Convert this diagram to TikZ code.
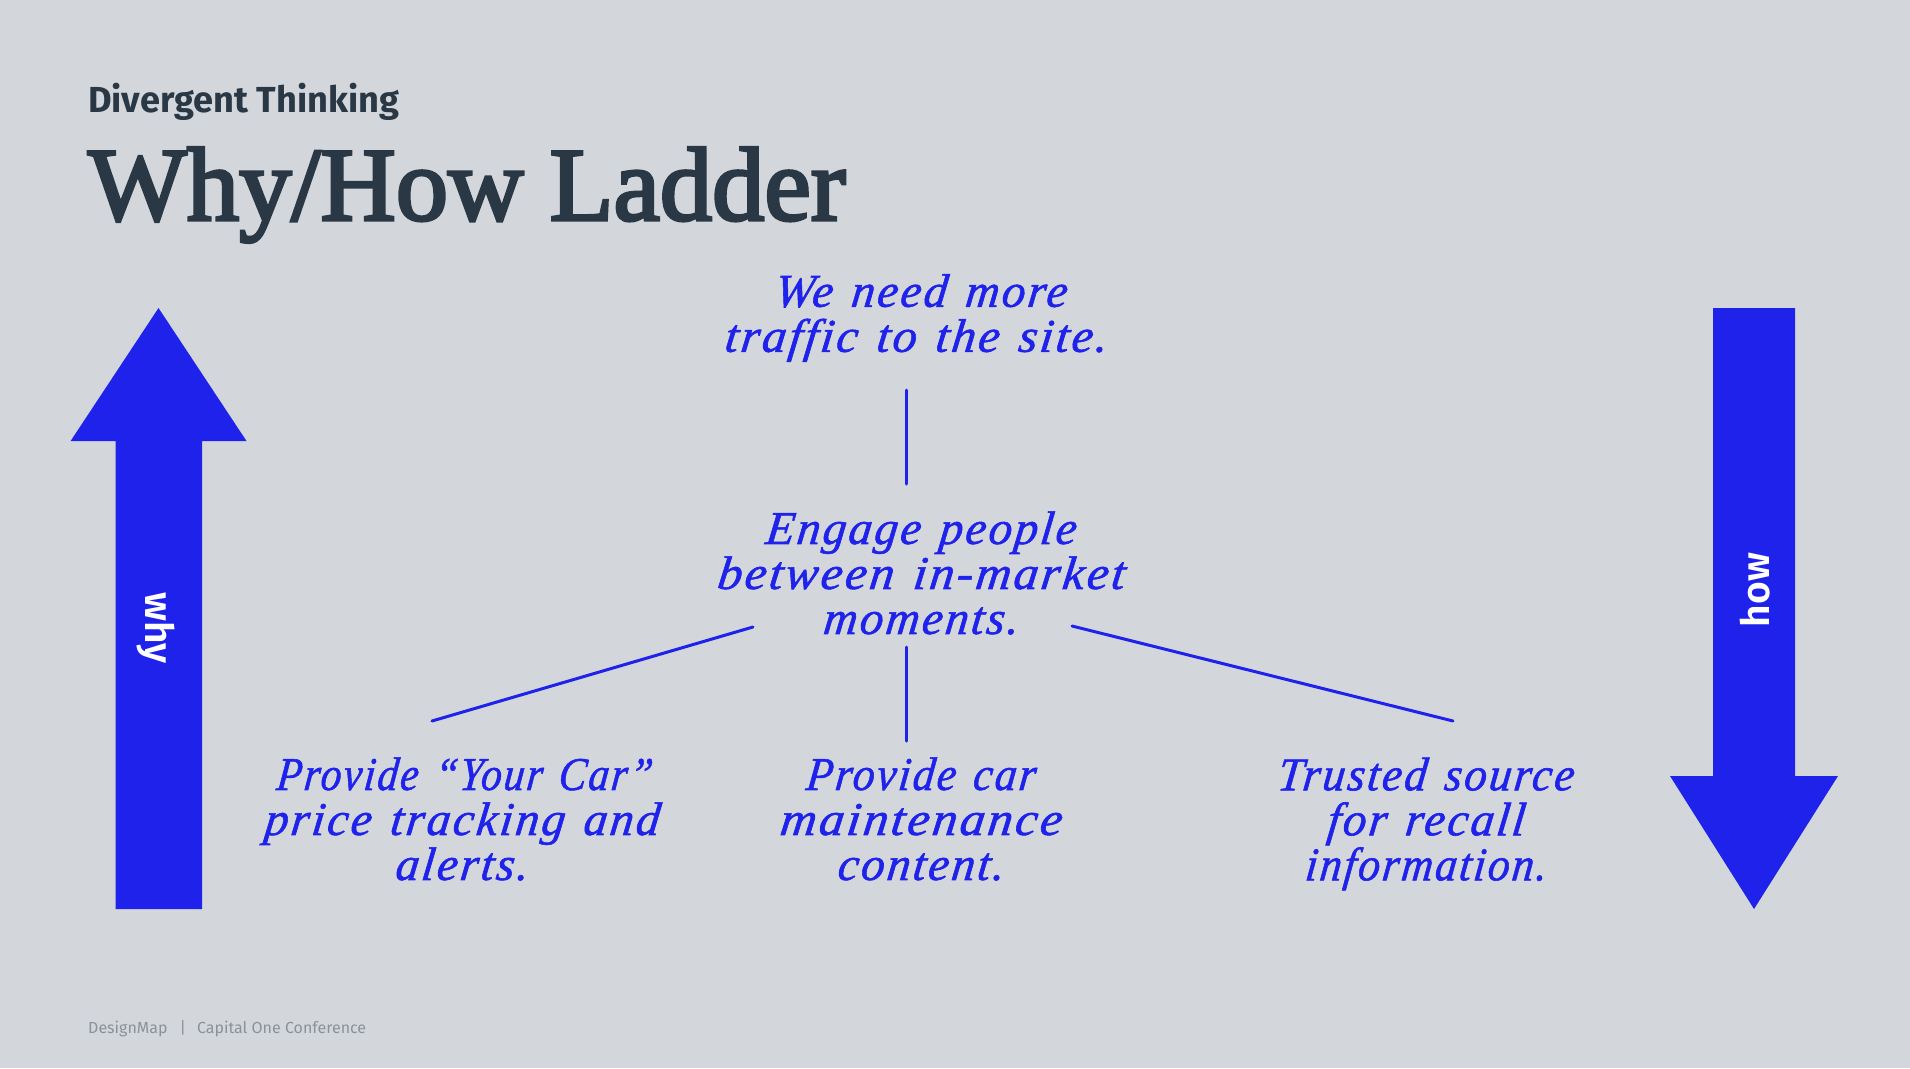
\documentclass[tikz,border=0pt]{standalone}
\usepackage{fontspec}
\setmainfont{Liberation Serif}
\newfontfamily\hand[FakeSlant=0.12,FakeBold=1.2,LetterSpace=5,WordSpace=1.3]{Liberation Serif Italic}
\newfontfamily\titlefont[FakeBold=3]{Liberation Serif}
\newfontfamily\sansb{Fira Sans Bold}
\newfontfamily\sansm{Fira Sans SemiBold}
\newfontfamily\sansr{Fira Sans}
\newcommand\hx[2]{\scalebox{#1}[1]{#2}}
\definecolor{bg}{HTML}{D3D7DB}
\definecolor{ink}{HTML}{1F22EA}
\definecolor{dark}{HTML}{2A3846}
\definecolor{foot}{HTML}{8A9299}
\tikzset{
  handtext/.style={text=ink,align=center,inner sep=0pt,font=\hand\fontsize{47}{45}\selectfont},
  ladderline/.style={draw=ink,line width=3pt,line cap=round},
  bigarrow/.style={fill=ink,draw=none},
  arrowlabel/.style={text=white,inner sep=0pt,font=\sansm\fontsize{39}{39}\selectfont},
}
\begin{document}
\begin{tikzpicture}[x=1pt,y=-1pt]
\useasboundingbox (0,0) rectangle (1910,1068);
\fill[bg] (0,0) rectangle (1910,1068);
\node[anchor=base west,inner sep=0pt,text=dark,font=\sansb\fontsize{36.2}{36}\selectfont] (kicker) at (88,112) {Divergent Thinking};
\node[anchor=base west,inner sep=0pt,text=dark,font=\titlefont\fontsize{104.5}{105}\selectfont] (title) at (88,220) {Why/How Ladder};
\node[anchor=base west,inner sep=0pt,text=foot,font=\sansr\fontsize{16}{16}\selectfont] (footer) at (88,1033) {DesignMap\hspace{12pt}|\hspace{11pt}Capital One Conference};
\fill[bigarrow] (158.5,308) -- (246.5,441) -- (202,441) -- (202,909) -- (115.7,909) -- (115.7,441) -- (70.6,441) -- cycle;
\fill[bigarrow] (1713,308) -- (1795,308) -- (1795,776) -- (1838,776) -- (1754,909) -- (1670,776) -- (1713,776) -- cycle;
\node[arrowlabel,rotate=-90] (why) at (156,628) {why};
\node[arrowlabel,rotate=90] (how) at (1755,590) {how};
\node[handtext] (top) at (915,318) {\hspace{10pt}We need more\\\hx{1.03}{traffic to the site.}};
\node[handtext] (mid) at (920,573) {Engage people\\\hx{1.05}{between in-market}\\moments.};
\node[handtext] (c1) at (461,819) {\hspace{5pt}\hx{0.88}{Provide “Your Car”}\\\hx{1.01}{price tracking and}\\alerts.};
\node[handtext] (c2) at (920,819) {\hx{0.93}{Provide car}\\\hx{1.07}{maintenance}\\content.};
\node[handtext] (c3) at (1425,824) {\hx{0.96}{Trusted source}\\for recall\\\hx{0.93}{information.}};
\coordinate (a1) at (906,390); \coordinate (a2) at (906,484);
\coordinate (b1) at (906,647); \coordinate (b2) at (906,741);
\coordinate (l1) at (753,627); \coordinate (l2) at (432,721);
\coordinate (r1) at (1072,626); \coordinate (r2) at (1453,721);
\draw[ladderline] (a1) -- (a2);
\draw[ladderline] (b1) -- (b2);
\draw[ladderline] (l1) -- (l2);
\draw[ladderline] (r1) -- (r2);
\end{tikzpicture}
\end{document}
